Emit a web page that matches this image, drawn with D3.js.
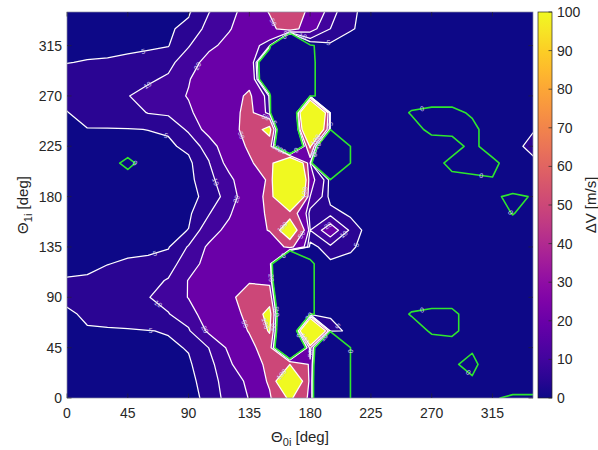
<!DOCTYPE html>
<html>
<head>
<meta charset="utf-8">
<script src="https://cdn.jsdelivr.net/npm/d3@7"></script>
<style>
  body { margin: 0; background: #fff; }
  text { font-family: "Liberation Sans", Arial, sans-serif; }
</style>
</head>
<body>
<script>
// grid axes (deg)
const theta0 = [0, 15, 30, 45, 60, 75, 90, 105, 120, 135, 150, 165, 180, 195, 210, 225, 240, 255, 270, 285, 300, 315, 330, 345];
const theta1 = [0, 15, 30, 45, 60, 75, 90, 105, 120, 135, 150, 165, 180, 195, 210, 225, 240, 255, 270, 285, 300, 315, 330, 345];
const levels = [5, 10, 20, 50, 100];
const zeroLevel = 0;
const xTicks = [0, 45, 90, 135, 180, 225, 270, 315];
const yTicks = [0, 45, 90, 135, 180, 225, 270, 315];
const cbTicks = [0, 10, 20, 30, 40, 50, 60, 70, 80, 90, 100];

// dV [m/s], one row per theta1 value, columns follow theta0
const dV = [
  [3, 3.5, 4, 4.2, 4.3, 4.4, 4.5, 5.4, 13, 20.5, 45, 110, 40, -200, 2, 2, 2, 2, 2.5, 2.5, 2.5, 0.3, -0.5, -0.5],
  [3, 3.5, 4, 4.2, 4.3, 4.4, 4.7, 5.5, 15, 22, 55, 200, 40, -200, 2, 2, 2, 2, 2.5, 2.5, 0.5, 2.5, 2, 2],
  [3, 3.5, 4, 4.2, 4.3, 4.4, 4.6, 7, 18, 30, 60, 100, 45, -200, 2, 2, 2, 2, 2.5, 0.5, -1, 2.5, 2, 2],
  [3, 3.5, 4, 4.2, 4.3, 4.5, 5.2, 10.1, 22, 40, 70, -200, 60, -200, 1.5, 2, 2, 2, 2, 2, 0.5, 2.5, 2, 2],
  [3.5, 4.5, 4.6, 4.7, 4.9, 5.2, 9, 22, 30, 52, 105, -200, 400, 8, 3, 2, 2, 2, -0.5, -1, 2, 2.5, 2, 2],
  [4, 6, 6.5, 7, 8, 9.7, 14, 28, 35, 60, 120, -200, -1, 4, 3, 2, 2, -0.3, -1, -1, 2, 2.5, 2, 2],
  [6.5, 7.5, 8, 9, 9.8, 12, 20.5, 30, 38, 75, 75, -200, -1, 4, 3, 2, 2, 2, 2, 2, 2.5, 2.5, 2, 2],
  [5.5, 5.8, 6.5, 7.5, 8, 10.5, 20.5, 28, 38, 45, 40, -200, -1, 4, 3, 2, 2, 2, 2, 2, 2, 2, 2, 2],
  [3, 3.5, 4.9, 5.5, 5.8, 7, 14, 25, 35, 35, 30, -200, -1, 4, 3, 2, 2, 2, 2, 2, 2, 2, 2, 2],
  [2.5, 2.8, 3.5, 4, 4.2, 4.7, 10.5, 22, 30, 30, 25, 60, 3, 8, 6, 2, 2, 2, 2, 2, 2, 2, 2, 2],
  [2, 2.6, 3, 3.2, 3.5, 3.8, 5.1, 14, 24, 35, 52, 150, 10, 28, 8, 2.5, 2, 2, 2, 2, 2, 2, 2, 2],
  [2, 2.5, 3, 3.2, 3.5, 3.8, 4.2, 9.5, 18, 35, 55, 75, 6, 7, 4, 2, 2, 2, 2, 2, 2, 2.5, -0.2, 2],
  [2, 2.5, 3, 3.2, 3.5, 3.8, 4, 6, 13, 30, 60, 300, 20, 3, 2, 2, 2, 2, 2, 2, 2, 0.8, -1, 0.3],
  [2, 2.6, 3, 3.2, 3.5, 3.8, 4.2, 7, 17, 30, 55, 400, 25, 3, 2, 2, 2, 2, 2, 1, 0.5, 0.2, 4.5, 2],
  [2, 2.8, 3, -2, 3.5, 3.8, 4, 9.5, 24, 45, 70, 250, 20, -200, 2, 2, 2, 2, 1.5, -1, -1, -1, 2, 3.5],
  [2.5, 3.5, 4, 4.2, 4.2, 4.3, 6, 13, 30, 55, 70, -200, 110, -200, 2, 2, 2, 2, 2, 1.5, -1, 2, 3, 7],
  [3.5, 4.8, 4.8, 4.85, 5.05, 5.5, 11, 25, 35, 65, 120, -200, 300, 2, 2, 2, 2, 1.5, -1, -1, -1, 2, 2, 4.5],
  [4.8, 7, 7.5, 8, 10.2, 11, 17, 30, 38, 60, 10, -200, 400, 3, 2, 2, 2, -0.3, -1, -1, 0.5, 2, 2, 2],
  [7, 8, 9, 9.8, 12, 14, 21, 32, 38, 55, 8, -200, -1, 3, 2, 2, 2, 2, 2, 2, 2, 2, 2, 2],
  [6.5, 7, 8, 8.5, 9, 11, 19, 30, 35, 40, -40, -200, -1, 3, 3, 2, 2, 2, 2, 2, 2, 2, 2, 2],
  [4.9, 5.2, 5.3, 5.5, 6, 8, 14, 25, 30, 35, -40, -200, -1, 3, 3, 2, 2, 2, 2, 2, 2, 2, 2, 2],
  [3.5, 4, 4.2, 4.5, 4.6, 4.8, 9.5, 17, 24, 30, 10, -200, -1, 4, 2, 2, 2, 2, 2, 2, 2, 2, 2, 2],
  [3, 3.5, 4, 4.2, 4.3, 4.5, 6, 12, 19, 28, 40, 70, 25, 10, 5.5, 3, 2, 2, 2, 2, 2, 2, 2, 2],
  [3, 3.5, 4, 4.2, 4.3, 4.5, 4.5, 9.8, 16, 26, 52, 80, 40, 12, 6, 3, 2, 2, 2, 2, 2, 2, 2, 2]
];

const width = 598, height = 450;
const m = { left: 67, right: 533, top: 12, bottom: 398 };

const svg = d3.select("body").append("svg").attr("width", width).attr("height", height);

const x = d3.scaleLinear().domain([theta0[0], theta0[theta0.length - 1]]).range([m.left, m.right]);
const y = d3.scaleLinear().domain([theta1[0], theta1[theta1.length - 1]]).range([m.bottom, m.top]);
const c = d3.scaleLinear().domain([0, 100]).range([0, 1]).clamp(true);
const colorOf = (v) => d3.interpolatePlasma(c(v));

// contour grid -> pixel (samples sit at cell centres in d3.contours)
const dx = theta0[1] - theta0[0], dy = theta1[1] - theta1[0];
const toPx = ([cx, cy]) => [x(theta0[0] + dx * (cx - 0.5)), y(theta1[0] + dy * (cy - 0.5))];
const proj = d3.geoTransform({
  point(px, py) {
    const p = toPx([px, py]);
    this.stream.point(p[0], p[1]);
  }
});
const path = d3.geoPath(proj);

const sets = d3.contours()
  .size([theta0.length, theta1.length])
  .thresholds([zeroLevel, ...levels])(dV.flat());

const defs = svg.append("defs");
defs.append("clipPath").attr("id", "plotClip")
  .append("rect").attr("x", m.left).attr("y", m.top)
  .attr("width", m.right - m.left).attr("height", m.bottom - m.top);

const g = svg.append("g").attr("clip-path", "url(#plotClip)");

// lowest band
g.append("rect").attr("x", m.left).attr("y", m.top)
  .attr("width", m.right - m.left).attr("height", m.bottom - m.top)
  .attr("fill", colorOf(0));

const filled = sets.filter((s) => s.value >= levels[0]);
filled.forEach((s) => {
  g.append("path").attr("d", path(s)).attr("fill", colorOf(s.value)).attr("stroke", "none");
});
filled.forEach((s) => {
  g.append("path").attr("d", path(s)).attr("fill", "none")
    .attr("stroke", "#fff").attr("stroke-width", 1.25).attr("stroke-linejoin", "round");
});
const zero = sets.find((s) => s.value === zeroLevel);
g.append("path").attr("d", path(zero)).attr("fill", "none")
  .attr("stroke", "#2ee62e").attr("stroke-width", 1.6).attr("stroke-linejoin", "round");

// contour labels along the lines
const inside = (p) => p[0] > m.left + 2 && p[0] < m.right - 2 && p[1] > m.top + 2 && p[1] < m.bottom - 2;
const labelG = svg.append("g");
sets.forEach((s) => {
  s.coordinates.forEach((poly) => poly.forEach((ring) => {
    const r = ring.map(toPx);
    let acc = 0, next = 30;
    for (let k = 1; k < r.length; k++) {
      const p0 = r[k - 1], p1 = r[k];
      if (!inside(p0) || !inside(p1)) continue;
      const L = Math.hypot(p1[0] - p0[0], p1[1] - p0[1]);
      while (L > 0 && acc + L >= next) {
        const t = (next - acc) / L;
        const lx = p0[0] + t * (p1[0] - p0[0]), ly = p0[1] + t * (p1[1] - p0[1]);
        let a = Math.atan2(p1[1] - p0[1], p1[0] - p0[0]) * 180 / Math.PI;
        if (a > 90) a -= 180;
        if (a < -90) a += 180;
        labelG.append("text")
          .attr("transform", `translate(${lx},${ly}) rotate(${a})`)
          .attr("text-anchor", "middle").attr("dy", "0.35em")
          .attr("font-size", 7).attr("fill", "#d2d2f0")
          .text(s.value);
        next += 150;
      }
      acc += L;
    }
  }));
});

// axes box and ticks
const axisColor = "#262626";
svg.append("rect").attr("x", m.left).attr("y", m.top)
  .attr("width", m.right - m.left).attr("height", m.bottom - m.top)
  .attr("fill", "none").attr("stroke", "#8a8aa0").attr("stroke-width", 0.7);

const tickLen = 4.5;
xTicks.forEach((t) => {
  svg.append("line").attr("x1", x(t)).attr("x2", x(t)).attr("y1", m.bottom).attr("y2", m.bottom - tickLen)
    .attr("stroke", axisColor).attr("stroke-width", 0.6);
  svg.append("line").attr("x1", x(t)).attr("x2", x(t)).attr("y1", m.top).attr("y2", m.top + tickLen)
    .attr("stroke", axisColor).attr("stroke-width", 0.6);
  svg.append("text").attr("x", x(t)).attr("y", 418).attr("text-anchor", "middle")
    .attr("font-size", 14).attr("fill", axisColor).text(t);
});
yTicks.forEach((t) => {
  svg.append("line").attr("x1", m.left).attr("x2", m.left + tickLen).attr("y1", y(t)).attr("y2", y(t))
    .attr("stroke", axisColor).attr("stroke-width", 0.6);
  svg.append("line").attr("x1", m.right).attr("x2", m.right - tickLen).attr("y1", y(t)).attr("y2", y(t))
    .attr("stroke", axisColor).attr("stroke-width", 0.6);
  svg.append("text").attr("x", 62).attr("y", y(t) + 5).attr("text-anchor", "end")
    .attr("font-size", 14).attr("fill", axisColor).text(t);
});

// axis labels
const xl = svg.append("text").attr("x", (m.left + m.right) / 2).attr("y", 442)
  .attr("text-anchor", "middle").attr("font-size", 15).attr("fill", axisColor);
xl.append("tspan").text("Θ");
xl.append("tspan").attr("dy", 4).attr("font-size", 11).text("0i");
xl.append("tspan").attr("dy", -4).text(" [deg]");

const yl = svg.append("text")
  .attr("transform", `translate(28,${(m.top + m.bottom) / 2}) rotate(-90)`)
  .attr("text-anchor", "middle").attr("font-size", 15).attr("fill", axisColor);
yl.append("tspan").text("Θ");
yl.append("tspan").attr("dy", 4).attr("font-size", 11).text("1i");
yl.append("tspan").attr("dy", -4).text(" [deg]");

// colorbar
const cb = { x: 538, w: 14 };
const cy = d3.scaleLinear().domain([cbTicks[0], cbTicks[cbTicks.length - 1]]).range([m.bottom, m.top]);
const grad = defs.append("linearGradient").attr("id", "cbGrad")
  .attr("x1", 0).attr("y1", 1).attr("x2", 0).attr("y2", 0);
d3.range(0, 1.0001, 0.05).forEach((o) => {
  grad.append("stop").attr("offset", o).attr("stop-color", d3.interpolatePlasma(o));
});
svg.append("rect").attr("x", cb.x).attr("y", m.top).attr("width", cb.w).attr("height", m.bottom - m.top)
  .attr("fill", "url(#cbGrad)").attr("stroke", axisColor).attr("stroke-width", 0.7);
cbTicks.forEach((t) => {
  svg.append("line").attr("x1", cb.x + cb.w).attr("x2", cb.x + cb.w - 3.5).attr("y1", cy(t)).attr("y2", cy(t))
    .attr("stroke", axisColor).attr("stroke-width", 0.7);
  svg.append("text").attr("x", cb.x + cb.w + 5).attr("y", cy(t) + 5)
    .attr("font-size", 14).attr("fill", axisColor).text(t);
});
svg.append("text")
  .attr("transform", `translate(596,${(m.top + m.bottom) / 2}) rotate(-90)`)
  .attr("text-anchor", "middle").attr("font-size", 15).attr("fill", axisColor)
  .text("ΔV [m/s]");
</script>
</body>
</html>
